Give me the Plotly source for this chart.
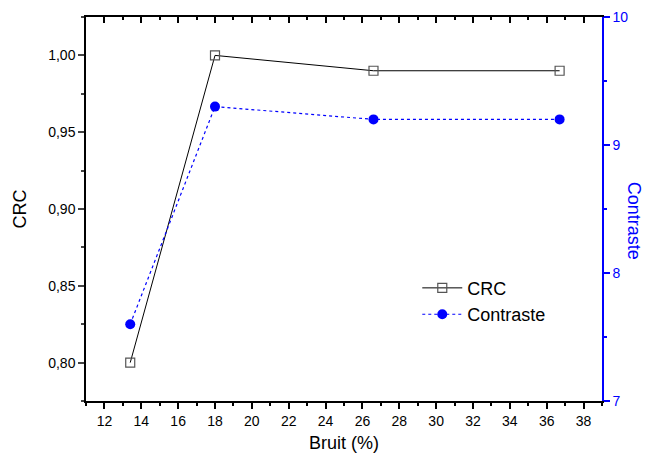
import plotly.graph_objects as go

bruit = [13.4, 18.0, 26.6, 36.7]
crc = [0.80, 1.00, 0.99, 0.99]
contraste = [7.6, 9.3, 9.2, 9.2]

font = "Liberation Sans, Arial, sans-serif"

fig = go.Figure()
fig.add_trace(go.Scatter(x=bruit, y=crc, name="CRC", mode="lines+markers",
                         line=dict(color="black", width=1),
                         marker=dict(symbol="square-open", size=9, color="#555555", line=dict(width=1.2))))
fig.add_trace(go.Scatter(x=bruit, y=contraste, name="Contraste", mode="lines+markers", yaxis="y2",
                         line=dict(color="blue", width=1.2, dash="dot"),
                         marker=dict(symbol="circle", size=10, color="blue")))
# transparent copy of the CRC series to carry the labelled bottom axis
fig.add_trace(go.Scatter(x=bruit, y=crc, xaxis="x2", yaxis="y", showlegend=False,
                         mode="lines", line=dict(color="rgba(0,0,0,0)"), hoverinfo="skip"))

# page body has an 8px margin, so the figure is sized to fit inside it
fig.update_layout(
    width=643, height=445,
    margin=dict(l=78, r=49, t=9, b=52),
    plot_bgcolor="white", paper_bgcolor="white",
    separators=",.",
    font=dict(family=font, size=14, color="black"),
    showlegend=True,
    legend=dict(x=0.642, y=0.26, xanchor="left", yanchor="middle", bgcolor="rgba(0,0,0,0)",
                font=dict(size=18), tracegroupgap=0, itemwidth=40),
    # main x axis drawn on top with inward ticks
    xaxis=dict(range=[11, 39], dtick=2, tick0=12, side="top", ticks="inside", ticklen=6,
               tickwidth=1.5, tickcolor="black", showticklabels=False, showline=True,
               linecolor="black", linewidth=1.5, showgrid=False, zeroline=False, automargin=False,
               minor=dict(dtick=1, ticks="inside", ticklen=3, tickwidth=1.5, tickcolor="black")),
    # labelled bottom axis
    xaxis2=dict(range=[11, 39], dtick=2, tick0=12, overlaying="x", anchor="y", side="bottom",
                ticks="outside", ticklen=6, tickwidth=1.5, tickcolor="black", showline=True,
                linecolor="black", linewidth=1.5, showgrid=False, zeroline=False, automargin=False,
                minor=dict(dtick=1, ticks="outside", ticklen=3, tickwidth=1.5, tickcolor="black"),
                title=dict(text="Bruit (%)", font=dict(size=18), standoff=11)),
    yaxis=dict(range=[0.775, 1.025], dtick=0.05, tick0=0.8, tickformat=".2f", ticks="outside",
               ticklen=6, tickwidth=1.5, showline=True, linecolor="black", linewidth=1.5,
               showgrid=False, zeroline=False, automargin=False,
               minor=dict(dtick=0.025, ticks="outside", ticklen=3, tickwidth=1.5),
               title=dict(text="CRC", font=dict(size=18), standoff=17)),
    yaxis2=dict(range=[7, 10], dtick=1, overlaying="y", side="right", ticks="outside",
                ticklen=6, tickwidth=1.5, tickcolor="blue", showline=True, linecolor="blue",
                linewidth=1.5, showgrid=False, zeroline=False, automargin=False,
                ticklabeloverflow="allow", tickfont=dict(color="blue"),
                minor=dict(dtick=0.5, ticks="outside", ticklen=3, tickwidth=1.5, tickcolor="blue")),
    annotations=[dict(text="Contraste", textangle=90, x=1.087, y=0.47, xref="paper", yref="paper",
                      showarrow=False, font=dict(size=18, color="blue"))],
)

fig.write_html("out.html")
